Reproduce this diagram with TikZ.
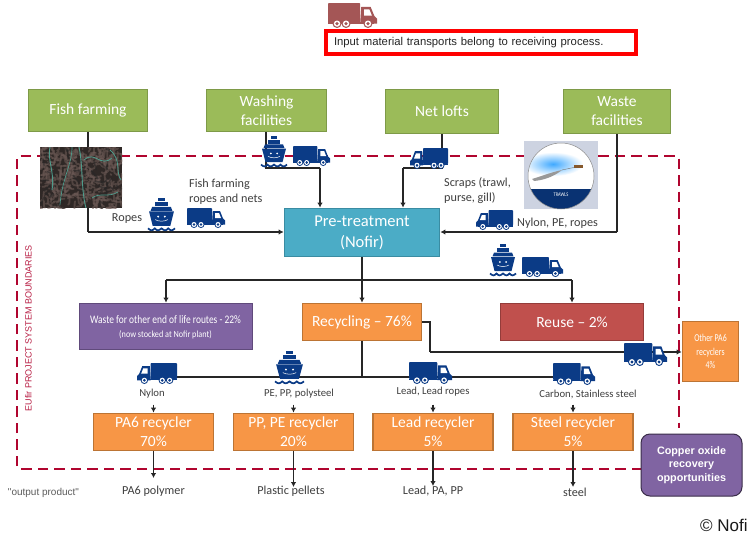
\documentclass[tikz,border=0pt]{standalone}
\usepackage{fontspec}
\usepackage{graphicx}
\setmainfont{Carlito}
\newfontfamily\arialf{Liberation Sans}
\usetikzlibrary{arrows.meta,calc}
\definecolor{navy}{HTML}{0B3B86}
\definecolor{ggreen}{HTML}{9BBB59}
\definecolor{ggreenD}{HTML}{7E9A48}
\definecolor{bblue}{HTML}{4BACC6}
\definecolor{bblueD}{HTML}{3A8CA2}
\definecolor{oorange}{HTML}{F79646}
\definecolor{oorangeD}{HTML}{BC7434}
\definecolor{ppurple}{HTML}{8064A2}
\definecolor{ppurpleD}{HTML}{604A7B}
\definecolor{rred}{HTML}{C0504D}
\definecolor{rredD}{HTML}{943C3A}
\definecolor{dashred}{HTML}{B0052F}
\definecolor{labelgray}{HTML}{3F3F3F}
\definecolor{brownlorry}{HTML}{A45656}
\definecolor{netbase}{HTML}{2F2826}
\definecolor{netrope}{HTML}{6E5B57}
\definecolor{netteal}{HTML}{4E9C8C}
\newcommand\lorry[5]{%
 \begin{scope}[shift={(#1,#2)},xscale=#3/38,yscale=#4/20]
  \fill[#5,rounded corners=0.8] (0,0) rectangle (25,15.5);
  \fill[#5] (25,15.5) -- (25.8,3) -- (33,3) -- (36,10.5) -- (38,12.5) -- (38,16.5) -- (25,16.5) -- cycle;
  \fill[white] (28,5) -- (32,5) -- (34,10) -- (28,10) -- cycle;
  \fill[#5] (0,15) rectangle (36,16.5);
  \foreach \wx in {7,14,31}{
   \fill[#5] (\wx,16.5) circle (3.5);
   \fill[white] (\wx,16.5) circle (2.5);
   \fill[#5] (\wx,16.5) circle (1.4);
  }
 \end{scope}}
\newcommand\shipsym[4]{%
 \begin{scope}[shift={(#1,#2)},xscale=#3/26,yscale=#4/33]
  \fill[navy] (10,0) rectangle (16,3.2);
  \fill[navy] (7,3.8) rectangle (19,8);
  \fill[navy] (4,8.6) -- (22,8.6) -- (23.5,12.4) -- (2.5,12.4) -- cycle;
  \fill[navy] (1,13) -- (25,13) -- (21.5,27) -- (4.5,27) -- cycle;
  \fill[white] (9.8,18) circle (1);
  \fill[white] (16.2,18) circle (1);
  \draw[white,line width=.5] (7,21) .. controls (10,23) and (16,23) .. (19,21);
  \draw[navy,line width=1.7] (0,29.5) .. controls (3,32) and (4,32) .. (6.5,29.5) .. controls (9,32) and (10,32) .. (13,29.5) .. controls (16,32) and (17,32) .. (19.5,29.5) .. controls (22,32) and (23,32) .. (26,29.5);
 \end{scope}}
\tikzset{
 x=1pt,y=-1pt,
 boxbase/.style={draw,line width=1.8,inner sep=0pt,align=center,text=white,font=\fontsize{15.5}{19}\selectfont},
 greenbox/.style={boxbase,fill=ggreen,draw=ggreenD},
 bluebox/.style={boxbase,fill=bblue,draw=bblueD,font=\fontsize{16.5}{21}\selectfont},
 orangebox/.style={boxbase,fill=oorange,draw=oorangeD},
 purplebox/.style={boxbase,fill=ppurple,draw=ppurpleD},
 redbox/.style={boxbase,fill=rred,draw=rredD},
 flow/.style={line width=1.1,draw=black!85,-{Latex[length=5pt,width=5.5pt]}},
 plain/.style={line width=1.1,draw=black!85},
 smalllabel/.style={text=labelgray,font=\fontsize{12.2}{15}\selectfont,inner sep=0pt,align=left},
 tinylabel/.style={text=labelgray,font=\fontsize{10.7}{12}\selectfont,inner sep=0pt},
 outlabel/.style={text=labelgray,font=\fontsize{12.2}{14}\selectfont,inner sep=0pt},
 boundary/.style={draw=dashred,line width=2.3,dash pattern=on 10.5pt off 6pt,rounded corners=1.5},
}
\begin{document}
\begin{tikzpicture}
\useasboundingbox (0,0) rectangle (747,538);
\fill[white] (0,0) rectangle (747,538);

% system boundary
\draw[boundary] (642,468.7) -- (16.7,468.7) -- (16.7,155.7) -- (678.7,155.7) -- (678.7,428);
\node[rotate=90,text=dashred!90!white,font=\arialf\fontsize{9}{11}\selectfont,inner sep=0pt] (sysl) at (28.5,328) {EUfir PROJECT SYSTEM BOUNDARIES};

% top note
\node[draw=red,line width=3.6,fill=white,minimum width=310,minimum height=23,inner sep=0pt,text=black!85,font=\arialf\fontsize{11.3}{13}\selectfont,text width=294,align=left] (note) at (481,42.5) {Input material transports belong to receiving process.};
\lorry{328}{3}{49}{25}{brownlorry}

% sources
\node[greenbox,minimum width=119,minimum height=42] (fish) at (88,110.5) {Fish farming};
\node[greenbox,minimum width=120,minimum height=42] (wash) at (266.5,110.5) {Washing\\facilities};
\node[greenbox,minimum width=113,minimum height=44] (nets) at (442,111.5) {Net lofts};
\node[greenbox,minimum width=107,minimum height=44] (wastef) at (617,111.5) {Waste\\facilities};

% main process boxes
\node[bluebox,minimum width=155,minimum height=48] (pre) at (362,232.5) {Pre-treatment\\(Nofir)};
\node[purplebox,minimum width=173,minimum height=46] (wroute) at (166,326.5) {};
\node[text=white,inner sep=0pt,align=center,font=\fontsize{11.5}{14}\selectfont] (wroutea) at (165.5,320) {\scalebox{0.82}[1]{Waste for other end of life routes - 22\%}};
\node[text=white,inner sep=0pt,align=center,font=\fontsize{9.4}{10}\selectfont] (wrouteb) at (165.5,334.5) {\scalebox{0.87}[1]{(now stocked at Nofir plant)}};
\node[orangebox,minimum width=119,minimum height=37] (recyc) at (362,322) {Recycling -- 76\%};
\node[redbox,minimum width=143,minimum height=37] (reuse) at (572,322) {Reuse -- 2\%};
\node[orangebox,minimum width=56,minimum height=60,font=\fontsize{10.5}{13.5}\selectfont] (other) at (710.5,351.5) {\scalebox{0.75}[1]{Other PA6}\\\scalebox{0.75}[1]{recyclers}\\\scalebox{0.75}[1]{4\%}};

\node[orangebox,minimum width=120,minimum height=37] (pa6) at (153.5,432) {PA6 recycler\\70\%};
\node[orangebox,minimum width=120,minimum height=37] (pp) at (293.5,432) {PP, PE recycler\\20\%};
\node[orangebox,minimum width=120,minimum height=37] (lead) at (433,432) {Lead recycler\\5\%};
\node[orangebox,minimum width=120,minimum height=37] (steel) at (573,432) {Steel recycler\\5\%};

% output labels
\node[text=labelgray!85,font=\arialf\fontsize{10}{11}\selectfont,inner sep=0pt] (outp) at (43.5,492.5) {"output product"};
\node[outlabel] (o1) at (153.5,491) {PA6 polymer};
\node[outlabel] (o2) at (291,491) {Plastic pellets};
\node[outlabel] (o3) at (433,491) {Lead, PA, PP};
\node[outlabel] (o4) at (575,492) {steel};

% helper coordinates
\coordinate (wa) at (266,168);
\coordinate (wb) at (320,168);
\coordinate (na) at (442,168);
\coordinate (nb) at (403,168);
\coordinate (ff) at (88,232);
\coordinate (wf) at (617,232);
\coordinate (splitA) at (362,280);
\coordinate (splitB) at (362,377);
\coordinate (rr) at (430,322);
\coordinate (rs) at (430,352);

% connectors
\draw[plain] (fish.south) -- (ff);
\draw[flow] (ff) -- (pre.west |- ff);
\draw[plain] (wash.south -| wa) -- (wa) -- (wb);
\draw[flow] (wb) -- (pre.north -| wb);
\draw[plain] (nets.south -| na) -- (na) -- (nb);
\draw[flow] (nb) -- (pre.north -| nb);
\draw[plain] (wastef.south -| wf) -- (wf);
\draw[flow] (wf) -- (pre.east |- wf);
\draw[flow] (pre.south) -- (recyc.north);
\draw[plain] (wroute.north |- splitA) -- (reuse.north |- splitA);
\draw[flow] (wroute.north |- splitA) -- (wroute.north);
\draw[flow] (reuse.north |- splitA) -- (reuse.north);
\draw[plain] (recyc.south) -- (splitB);
\draw[plain] (recyc.east |- rr) -- (rr) -- (rs);
\draw[flow] (rs) -- (other.west |- rs);
\draw[plain] (153.5,377) -- (553,377);
\foreach \b/\ln in {pa6/a,pp/b,lead/c,steel/d}{
  \coordinate (lb\ln) at ($(\b.north)+(0,-8)$);
  \draw[flow] (lb\ln) -- (\b.north);
}
\draw[flow] (pa6.south) -- (pa6.south |- 0,478);
\draw[flow] (pp.south) -- (pp.south |- 0,487);
\draw[flow] (lead.south) -- (lead.south |- 0,486);
\draw[flow] (steel.south) -- (steel.south |- 0,487);

% flow labels
\node[smalllabel,anchor=center] (lr) at (127,219) {Ropes};
\node[smalllabel,anchor=west] (lffr) at (189,191.5) {Fish farming\\ropes and nets};
\node[smalllabel,anchor=west] (lsc) at (444,190.5) {Scraps (trawl,\\purse, gill)};
\node[smalllabel,anchor=west] (lny) at (517,223) {Nylon, PE, ropes};
\node[tinylabel] (l1) at (152,394) {Nylon};
\node[tinylabel] (l2) at (299,394) {PE, PP, polysteel};
\node[tinylabel] (l3) at (433,392) {Lead, Lead ropes};
\node[tinylabel] (l4) at (588,394) {Carbon, Stainless steel};

% transport symbols
\shipsym{261}{136}{26}{32}
\lorry{293}{146}{37}{20}{navy}
\lorry{448}{148}{-38}{21}{navy}
\shipsym{148}{198}{27}{34}
\lorry{187}{208}{38}{20}{navy}
\lorry{513}{210}{-37}{20}{navy}
\shipsym{490}{244}{26}{33}
\lorry{522}{257}{41}{20}{navy}
\lorry{177}{363}{-40}{21}{navy}
\shipsym{275}{351}{29}{34}
\lorry{409}{362}{43}{22}{navy}
\lorry{553}{363}{42}{22}{navy}
\lorry{624}{343}{43}{23}{navy}

% net photo
\begin{scope}
 \clip (40,147) rectangle (122,208);
 \fill[netbase] (40,147) rectangle (122,208);
 \pgfmathsetseed{11}
 \foreach \i in {1,...,300}{
  \pgfmathsetmacro\xa{38+rnd*86}
  \pgfmathsetmacro\ya{145+rnd*65}
  \pgfmathsetmacro\xb{\xa+(rnd-0.5)*22}
  \pgfmathsetmacro\yb{\ya+(rnd-0.5)*22}
  \draw[line width=1.8,netrope,opacity=.55,line cap=round] (\xa,\ya) .. controls (\xb,\ya) and (\xa,\yb) .. (\xb,\yb);
 }
 \foreach \i in {1,...,40}{
  \pgfmathsetmacro\xa{40+rnd*82}
  \pgfmathsetmacro\ya{147+rnd*61}
  \pgfmathsetmacro\xb{\xa+(rnd-0.5)*16}
  \pgfmathsetmacro\yb{\ya+(rnd-0.5)*16}
  \draw[line width=1.5,black!85,opacity=.55,line cap=round] (\xa,\ya) -- (\xb,\yb);
 }
 \draw[line width=.9,netteal] (79,147) .. controls (83,165) and (81,190) .. (86,208);
 \draw[line width=.9,netteal] (50,147) .. controls (47,160) and (55,172) .. (52,190);
 \draw[line width=.7,netteal] (72,147) .. controls (72,165) and (62,178) .. (60,205);
 \draw[line width=.8,netteal] (84,160) .. controls (95,150) and (100,168) .. (112,158);
 \draw[line width=.8,netteal] (110,150) .. controls (122,160) and (115,172) .. (121,180);
 \draw[line width=.7,netteal] (92,198) .. controls (100,192) and (108,198) .. (118,192);
\end{scope}
\node[draw=none,minimum width=82,minimum height=61,inner sep=0pt] (photo) at (81,177.5) {};

% trawl badge
\node[fill={rgb,255:red,205;green,211;blue,225},minimum width=74,minimum height=68,inner sep=0pt] (badge) at (561,175) {};
\begin{scope}
 \clip (561,176) circle (33);
 \fill[white] (528,143) rectangle (594,209);
 \shade[inner color=blue!45!cyan!75!white,outer color=white] (553,164) ellipse (30 and 12);
 \fill[navy!85!black] (528,188.5) rectangle (594,209);
 \fill[black!40] (532,179) .. controls (542,176) and (552,172) .. (562,170) .. controls (556,175) and (546,180) .. (534,181) -- cycle;
 \draw[black!55,line width=.4] (562,170) -- (576,167);
 \fill[brown!70!black] (574,165) rectangle (583,167.5);
 \node[text=white,font=\fontsize{5.5}{6}\selectfont,inner sep=0pt] (trawls) at (561,195) {\scalebox{.8}[1]{TRAWLS}};
\end{scope}
\draw[black!45,line width=.5] (561,176) circle (33);

% copper box
\node[draw=black!55!ppurple,line width=1,fill=ppurple,rounded corners=9,minimum width=101,minimum height=62,inner sep=0pt,align=center,text=white,font=\arialf\bfseries\fontsize{10.8}{13.5}\selectfont] (copper) at (691.5,465) {Copper oxide\\recovery\\opportunities};

% credit
\node[anchor=west,inner sep=0pt,text=black!90,font=\arialf\fontsize{17}{19}\selectfont] (credit) at (700,525) {\textcopyright{} Nofir};
\end{tikzpicture}
\end{document}
